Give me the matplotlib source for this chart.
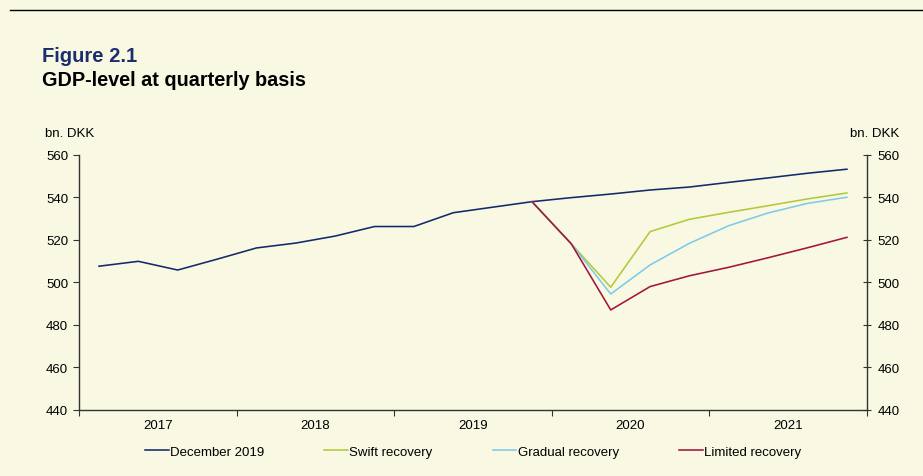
import numpy as np
import matplotlib.pyplot as plt
from matplotlib.ticker import FixedLocator, NullFormatter

plt.rcParams['font.family'] = ['Liberation Sans', 'DejaVu Sans']

# quarterly data, 2017Q1 - 2021Q4 (bn. DKK)
years = ['2017', '2018', '2019', '2020', '2021']
dec2019 = [507.6, 509.9, 505.8, 510.9, 516.2, 518.5, 521.8, 526.3, 526.3, 532.8,
           535.4, 538.0, 539.9, 541.6, 543.5, 544.9, 547.1, 549.2, 551.4, 553.3]
# scenarios start at 2019Q4 (index 11)
start = 11
swift = [538.0, 518.1, 497.7, 523.9, 529.7, 533.0, 536.1, 539.3, 542.1]
gradual = [538.0, 518.1, 494.5, 508.2, 518.4, 526.7, 532.7, 537.2, 540.1]
limited = [538.0, 518.1, 487.0, 498.0, 503.1, 507.1, 511.6, 516.3, 521.2]

bg = '#F8F8E3'
fs = 9.5
fig = plt.figure(figsize=(9.23, 4.77), dpi=100, facecolor=bg)
ax = fig.add_axes([0.0859, 0.139, 0.8530, 0.534], facecolor=bg)

x = np.arange(len(dec2019))
xs = np.arange(start, start + len(swift))
ax.plot(x, dec2019, color='#14296B', lw=1.15, label='December 2019')
ax.plot(xs, swift, color='#B4C93A', lw=1.15, label='Swift recovery')
ax.plot(xs, gradual, color='#7DCBEA', lw=1.15, label='Gradual recovery')
ax.plot(xs, limited, color='#A3143A', lw=1.15, label='Limited recovery')

ax.set_xlim(-0.5, len(dec2019) - 0.5)
ax.set_ylim(440, 560)
ax.set_yticks(np.arange(440, 561, 20))

# year boundaries as ticks, year labels centred in between
ax.xaxis.set_major_locator(FixedLocator(np.arange(-0.5, 20, 4)))
ax.xaxis.set_major_formatter(NullFormatter())
ax.xaxis.set_minor_locator(FixedLocator(np.arange(1.5, 20, 4)))
ax.set_xticklabels(years, minor=True)
ax.tick_params(axis='x', which='minor', length=0, pad=7, labelsize=fs)
ax.tick_params(axis='x', which='major', length=4.5, direction='out', color='#333333')
ax.tick_params(axis='y', length=4, direction='out', labelsize=fs, color='#333333', pad=4)

ax2 = ax.twinx()
ax2.set_ylim(ax.get_ylim())
ax2.set_yticks(np.arange(440, 561, 20))
ax2.tick_params(axis='y', length=6, direction='inout', labelsize=fs, color='#333333', pad=5)

for a in (ax, ax2):
    a.spines['top'].set_visible(False)
    for s in ('left', 'right', 'bottom'):
        a.spines[s].set_color('#333333')
        a.spines[s].set_linewidth(1.0)
ax.spines['right'].set_visible(False)
ax2.spines['left'].set_visible(False)
ax2.spines['bottom'].set_visible(False)

leg = ax.legend(loc='upper center', bbox_to_anchor=(0.5, -0.095), ncol=4, frameon=False,
                fontsize=fs, handlelength=1.8, handletextpad=0.1, columnspacing=4.55)

fig.add_artist(plt.Line2D([10 / 923, 1], [1 - 11 / 477] * 2, color='black', lw=1.0))
fig.text(42 / 923, 1 - 47 / 477, 'Figure 2.1', color='#1B2E6E', fontsize=14.5,
         fontweight='bold', va='top', ha='left')
fig.text(42 / 923, 1 - 71 / 477, 'GDP-level at quarterly basis', color='black', fontsize=14.3,
         fontweight='bold', va='top', ha='left')
fig.text(45 / 923, 1 - 134 / 477, 'bn. DKK', fontsize=fs, va='center', ha='left')
fig.text(899 / 923, 1 - 134 / 477, 'bn. DKK', fontsize=fs, va='center', ha='right')

fig.savefig('out.png', dpi=100, facecolor=bg)
